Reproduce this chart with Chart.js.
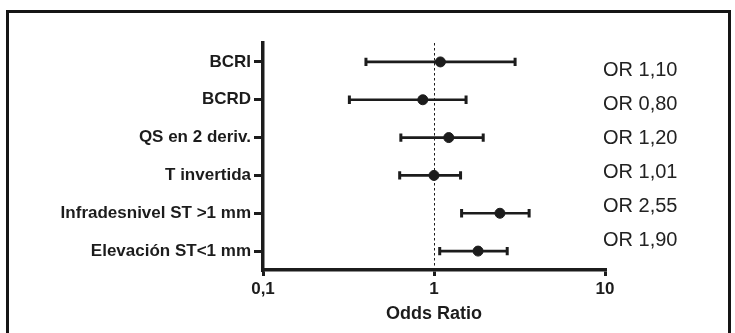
<!DOCTYPE html>
<html>
<head>
<meta charset="utf-8">
<script src="https://cdn.jsdelivr.net/npm/chart.js@4.4.1/dist/chart.umd.min.js"></script>
<style>
  body { margin: 0; background: #fff; }
  #wrap { position: relative; width: 735px; height: 333px; overflow: hidden; }
  #frame { position: absolute; left: 6px; top: 10px; right: 4px; bottom: -20px; border: 3px solid #151515; pointer-events: none; }
</style>
</head>
<body>
<div id="wrap">
  <canvas id="forest" width="735" height="333"></canvas>
  <div id="frame"></div>
</div>
<script>
// Datos del forest plot
const categorias = ['BCRI', 'BCRD', 'QS en 2 deriv.', 'T invertida', 'Infradesnivel ST >1 mm', 'Elevación ST<1 mm'];
const oddsRatio = [1.09, 0.86, 1.22, 1.00, 2.43, 1.81];
const icInferior = [0.40, 0.32, 0.64, 0.63, 1.45, 1.08];
const icSuperior = [2.98, 1.54, 1.94, 1.43, 3.60, 2.68];
const etiquetasOR = ['OR 1,10', 'OR 0,80', 'OR 1,20', 'OR 1,01', 'OR 2,55', 'OR 1,90'];
const ticksX = [0.1, 1, 10];
const etiquetasX = ['0,1', '1', '10'];

const tinta = '#1c1c1c';
const fuente = "'Liberation Sans', Arial, sans-serif";

// una serie por intervalo, con los topes como puntos 'line' girados
const intervalos = categorias.map((c, i) => ({
    type: 'line',
    data: [{ x: icInferior[i], y: c }, { x: icSuperior[i], y: c }],
    borderColor: tinta,
    borderWidth: 2.6,
    pointStyle: 'line',
    rotation: 90,
    pointRadius: 4.2,
    pointBorderWidth: 3,
    pointBorderColor: tinta,
    showLine: true,
    order: 2
}));

const lineaUno = {
    id: 'lineaUno',
    beforeDatasetsDraw(chart) {
        const { ctx, chartArea, scales } = chart;
        const x = scales.x.getPixelForValue(1);
        ctx.save();
        ctx.strokeStyle = tinta;
        ctx.lineWidth = 1;
        ctx.setLineDash([2.5, 2.5]);
        ctx.beginPath();
        ctx.moveTo(x + 0.5, chartArea.top);
        ctx.lineTo(x + 0.5, chartArea.bottom);
        ctx.stroke();
        ctx.restore();
    }
};

const textosOR = {
    id: 'textosOR',
    afterDraw(chart) {
        const { ctx, scales } = chart;
        const y0 = scales.y.getPixelForValue(0) + 9;
        ctx.save();
        ctx.fillStyle = '#222';
        ctx.font = '20px ' + fuente;
        ctx.textAlign = 'left';
        ctx.textBaseline = 'middle';
        etiquetasOR.forEach((t, i) => {
            ctx.fillText(t, scales.x.right - 2, y0 + i * 34);
        });
        ctx.restore();
    }
};

new Chart(document.getElementById('forest'), {
    type: 'scatter',
    data: {
        datasets: [
            {
                data: categorias.map((c, i) => ({ x: oddsRatio[i], y: c })),
                backgroundColor: tinta,
                borderColor: tinta,
                pointRadius: 5,
                order: 1
            },
            ...intervalos
        ]
    },
    options: {
        responsive: false,
        animation: false,
        layout: { padding: { top: 43, right: 130, left: 0, bottom: 0 } },
        plugins: { legend: { display: false }, tooltip: { enabled: false } },
        scales: {
            x: {
                type: 'logarithmic',
                min: 0.1,
                max: 10,
                afterBuildTicks: s => { s.ticks = ticksX.map(v => ({ value: v })); },
                afterFit: s => { s.height = 63; },
                ticks: {
                    color: tinta,
                    font: { family: fuente, size: 17, weight: 'bold' },
                    padding: 3,
                    maxRotation: 0,
                    callback: (v) => etiquetasX[ticksX.indexOf(v)]
                },
                grid: { drawOnChartArea: false, drawTicks: true, tickLength: 6, color: tinta, lineWidth: 3 },
                border: { display: true, color: tinta, width: 3.5 },
                title: {
                    display: true,
                    text: 'Odds Ratio',
                    color: tinta,
                    font: { family: fuente, size: 18, weight: 'bold' },
                    padding: { top: 2, bottom: 8 }
                }
            },
            y: {
                type: 'category',
                labels: categorias,
                offset: true,
                afterFit: s => { s.width = 263; },
                ticks: {
                    color: tinta,
                    font: { family: fuente, size: 17, weight: 'bold' },
                    padding: 3
                },
                grid: { drawOnChartArea: false, drawTicks: true, tickLength: 9, color: tinta, lineWidth: 3, offset: false },
                border: { display: true, color: tinta, width: 3.5 }
            }
        }
    },
    plugins: [lineaUno, textosOR]
});
</script>
</body>
</html>
